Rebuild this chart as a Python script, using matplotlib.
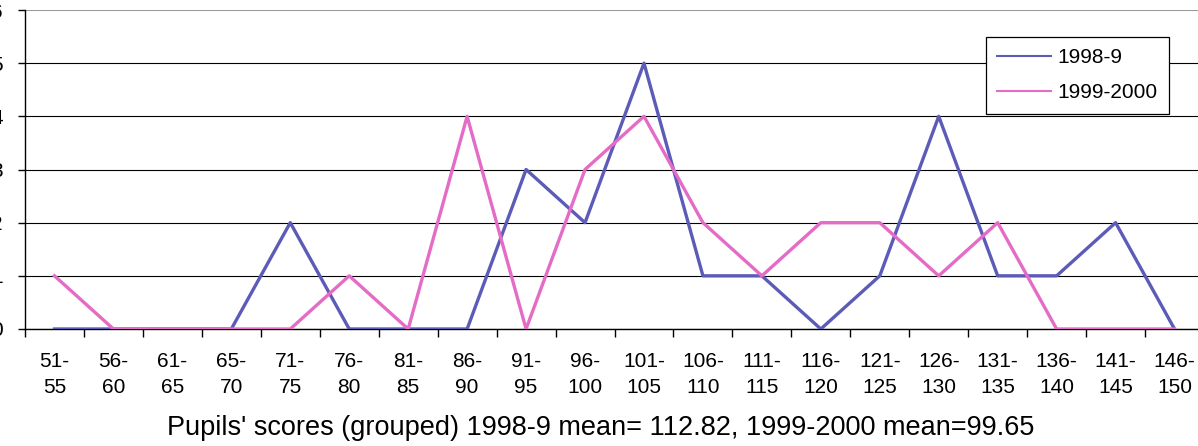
import matplotlib
matplotlib.use("Agg")
import matplotlib.pyplot as plt

categories = ["51-\n55", "56-\n60", "61-\n65", "65-\n70", "71-\n75", "76-\n80",
              "81-\n85", "86-\n90", "91-\n95", "96-\n100", "101-\n105", "106-\n110",
              "111-\n115", "116-\n120", "121-\n125", "126-\n130", "131-\n135",
              "136-\n140", "141-\n145", "146-\n150"]
series_1998 = [0, 0, 0, 0, 2, 0, 0, 0, 3, 2, 5, 1, 1, 0, 1, 4, 1, 1, 2, 0]
series_1999 = [1, 0, 0, 0, 0, 1, 0, 4, 0, 3, 4, 2, 1, 2, 2, 1, 2, 0, 0, 0]
y_ticks = [0, 1, 2, 3, 4, 5, 6]
xlabel = "Pupils' scores (grouped) 1998-9 mean= 112.82, 1999-2000 mean=99.65"

plt.rcParams['font.family'] = ['Liberation Sans', 'DejaVu Sans']

W, H = 1198, 446
fig = plt.figure(figsize=(W / 100, H / 100), dpi=100)
left, right = 25, 1204
top, bottom = 10, 329
ax = fig.add_axes([left / W, 1 - bottom / H, (right - left) / W, (bottom - top) / H])

x = list(range(len(categories)))
ax.plot(x, series_1998, color="#5c5cb8", lw=2.4, label="1998-9", zorder=3)
ax.plot(x, series_1999, color="#e46cc6", lw=2.4, label="1999-2000", zorder=3)

ax.set_xlim(-0.5, len(categories) - 0.5)
ax.set_ylim(0, 6)
ax.set_yticks(y_ticks)
ax.set_yticklabels([str(v) for v in y_ticks], fontsize=15)
ax.set_xticks(x)
ax.set_xticklabels(categories, fontsize=15, linespacing=1.5)
ax.set_xticks([i - 0.5 for i in range(len(categories) + 1)], minor=True)
ax.tick_params(axis='x', which='major', length=0, pad=16.5)
ax.tick_params(axis='x', which='minor', length=6, width=1, color='black', direction='out')
ax.tick_params(axis='y', length=5, width=1, direction='out', pad=11)

ax.grid(axis='y', color='black', lw=0.8, zorder=1)
ax.get_ygridlines()[-1].set_color('#9a9a9a')
for s in ['top', 'right']:
    ax.spines[s].set_visible(False)
ax.spines['left'].set_color('black')
ax.spines['bottom'].set_color('black')
ax.spines['left'].set_linewidth(1)
ax.spines['bottom'].set_linewidth(1)

ax.set_xlabel(xlabel, fontsize=19.5)
ax.xaxis.label.set_va('center')
ax.xaxis.set_label_coords((601 - left) / (right - left), (bottom - 428) / (bottom - top))

leg = ax.legend(loc='upper right', bbox_to_anchor=(1169 / W, 1 - 37 / H),
                bbox_transform=fig.transFigure, borderaxespad=0, fontsize=15,
                handlelength=2.6, handletextpad=0.3, labelspacing=0.75,
                borderpad=0.55, fancybox=False, framealpha=1, edgecolor='black')
for line in leg.get_lines():
    line.set_linewidth(1.5)
leg.get_frame().set_linewidth(0.9)

fig.savefig("out.png", dpi=100)
